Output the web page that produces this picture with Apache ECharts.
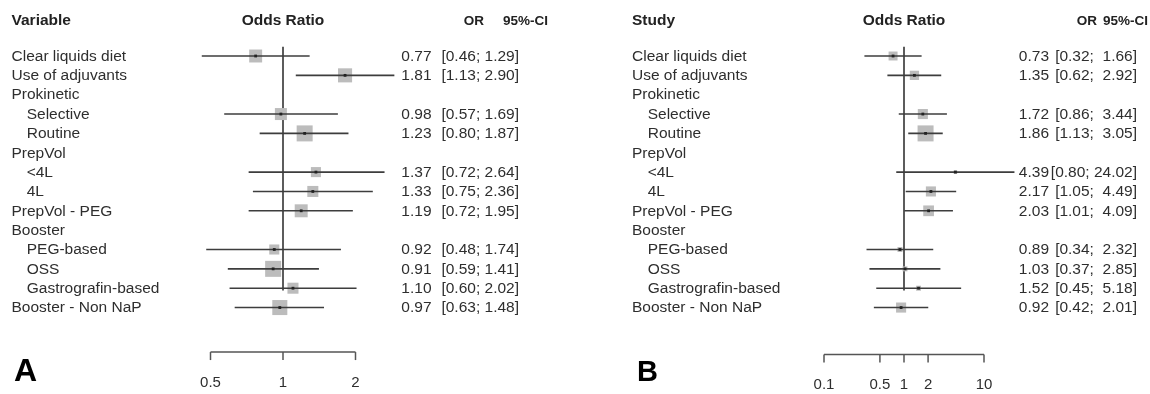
<!DOCTYPE html>
<html><head><meta charset="utf-8">
<script src="https://cdn.jsdelivr.net/npm/echarts@6/dist/echarts.min.js"></script>
<style>html,body{margin:0;padding:0;background:#fff}#c{width:1150px;height:394px}</style>
</head><body><div id="c"></div>
<script>
// ---------------- data ----------------
const rowLabels = ['Clear liquids diet','Use of adjuvants','Prokinetic','Selective','Routine','PrepVol','<4L','4L','PrepVol - PEG','Booster','PEG-based','OSS','Gastrografin-based','Booster - Non NaP'];
const rowIndent = [0,0,0,1,1,0,1,1,0,0,1,1,1,0];

const orA    = [0.77,1.81,null,0.98,1.23,null,1.37,1.33,1.19,null,0.92,0.91,1.10,0.97];
const lowerA = [0.46,1.13,null,0.57,0.80,null,0.72,0.75,0.72,null,0.48,0.59,0.60,0.63];
const upperA = [1.29,2.90,null,1.69,1.87,null,2.64,2.36,1.95,null,1.74,1.41,2.02,1.48];
const weightA= [0.81,0.88,null,0.75,1.00,null,0.63,0.69,0.81,null,0.63,1.00,0.69,0.94];

const orB    = [0.73,1.35,null,1.72,1.86,null,4.39,2.17,2.03,null,0.89,1.03,1.52,0.92];
const lowerB = [0.32,0.62,null,0.86,1.13,null,0.80,1.05,1.01,null,0.34,0.37,0.45,0.42];
const upperB = [1.66,2.92,null,3.44,3.05,null,24.02,4.49,4.09,null,2.32,2.85,5.18,2.01];
const weightB= [0.56,0.58,null,0.63,1.00,null,0.22,0.63,0.67,null,0.31,0.31,0.31,0.63];

const ticksA = [0.5,1,2];
const ticksB = [0.1,0.5,1,2,10];
const headersA = ['Variable','Odds Ratio','OR','95%-CI'];
const headersB = ['Study','Odds Ratio','OR','95%-CI'];
const panelLetters = ['A','B'];

// ---------------- layout / style ----------------
const FONT = '"Liberation Sans", Arial, Helvetica, sans-serif';
const FS = 15.5;
const TXT = '#2e2e2e';
const ROW_TOP = 36.65, ROW_H = 19.35, Y_MAX = 17;

const panels = [
  {or:orA, lo:lowerA, hi:upperA, w:weightA, ticks:ticksA, headers:headersA, letter:panelLetters[0],
   left:210.5, width:145, min:0.5, max:2, base:2, axisRow:16.30,
   labelX:11.5, indentX:26.7, orRight:431.5, ciRight:519, hdrOrRight:484, hdrCiRight:548,
   letterX:14, letterY:372, letterSize:32, boxMax:16},
  {or:orB, lo:lowerB, hi:upperB, w:weightB, ticks:ticksB, headers:headersB, letter:panelLetters[1],
   left:824, width:160, min:0.1, max:10, base:10, axisRow:16.42,
   labelX:632, indentX:647.7, orRight:1049, ciRight:1137, hdrOrRight:1097, hdrCiRight:1148,
   letterX:637, letterY:373, letterSize:29, boxMax:16}
];
const HDR_SMALL = 13.5;

function fmt(v){ return v.toFixed(2); }
function txt(x, y, text, align, size){
  return {type:'text', x:x, y:y, silent:true,
    style:{text:text, fill:TXT, fontSize:size||FS, fontFamily:FONT, align:align, verticalAlign:'middle'}};
}

const grids = [], xAxes = [], yAxes = [], series = [], graphics = [];

panels.forEach((P, pi) => {
  grids.push({left:P.left, width:P.width, top:ROW_TOP, height:Y_MAX*ROW_H});
  xAxes.push({type:'log', logBase:P.base, min:P.min, max:P.max, gridIndex:pi, show:false});
  yAxes.push({type:'value', min:0, max:Y_MAX, inverse:true, gridIndex:pi, show:false});

  const rows = rowLabels.map((l, i) => [1, i+1, i]);
  const est = [];
  P.or.forEach((v, i) => { if (v != null) est.push([v, i+1, P.lo[i], P.hi[i], P.w[i]]); });

  // pad bounds like R's formatC
  const hiWidth = Math.max(...P.hi.filter(v=>v!=null).map(v=>fmt(v).length));
  const loWidth = Math.max(...P.lo.filter(v=>v!=null).map(v=>fmt(v).length));

  // reference line at OR = 1
  series.push({type:'custom', xAxisIndex:pi, yAxisIndex:pi, clip:false, silent:true, z:1,
    data:[[1, 0.52, 13.12]],
    renderItem:(params, api) => {
      const a = api.coord([1, api.value(1)]), b = api.coord([1, api.value(2)]);
      return {type:'line', shape:{x1:a[0], y1:a[1], x2:b[0], y2:b[1]},
        style:{stroke:'#5c5c5c', lineWidth:2}};
    }});

  // CI lines and weighted boxes
  series.push({type:'custom', xAxisIndex:pi, yAxisIndex:pi, clip:false, silent:true, z:2,
    data:est,
    renderItem:(params, api) => {
      const p = api.coord([api.value(0), api.value(1)]);
      const l = api.coord([api.value(2), api.value(1)]);
      const h = api.coord([api.value(3), api.value(1)]);
      const s = api.value(4) * P.boxMax;
      return {type:'group', children:[
        {type:'rect', shape:{x:p[0]-s/2, y:p[1]-s/2, width:s, height:s}, style:{fill:'#bcbcbc'}},
        {type:'line', shape:{x1:l[0], y1:l[1], x2:h[0], y2:h[1]}, style:{stroke:'#3d3d3d', lineWidth:1.6}},
        {type:'rect', shape:{x:p[0]-1.4, y:p[1]-1.4, width:2.8, height:2.8}, style:{fill:'#222'}}
      ]};
    }});

  // row labels
  series.push({type:'custom', xAxisIndex:pi, yAxisIndex:pi, clip:false, silent:true, z:3,
    data:rows,
    renderItem:(params, api) => {
      const i = api.value(2);
      const y = api.coord([1, api.value(1)])[1] + 0.5;
      return txt(rowIndent[i] ? P.indentX : P.labelX, y, rowLabels[i], 'left');
    }});

  // OR and CI text columns
  series.push({type:'custom', xAxisIndex:pi, yAxisIndex:pi, clip:false, silent:true, z:3,
    data:est,
    renderItem:(params, api) => {
      const y = api.coord([1, api.value(1)])[1] + 0.5;
      const ci = '[' + fmt(api.value(2)).padStart(loWidth,' ') + '; ' + fmt(api.value(3)).padStart(hiWidth,' ') + ']';
      return {type:'group', children:[
        txt(P.orRight, y, fmt(api.value(0)), 'right'),
        txt(P.ciRight, y, ci, 'right')
      ]};
    }});

  // x axis line
  series.push({type:'custom', xAxisIndex:pi, yAxisIndex:pi, clip:false, silent:true, z:3,
    data:[[P.min, P.max]],
    renderItem:(params, api) => {
      const a = api.coord([api.value(0), P.axisRow]), b = api.coord([api.value(1), P.axisRow]);
      return {type:'line', shape:{x1:a[0], y1:a[1], x2:b[0], y2:b[1]}, style:{stroke:'#555', lineWidth:1.5}};
    }});
  // ticks and tick labels
  series.push({type:'custom', xAxisIndex:pi, yAxisIndex:pi, clip:false, silent:true, z:3,
    data:P.ticks.map(t => [t]),
    renderItem:(params, api) => {
      const v = api.value(0);
      const a = api.coord([v, P.axisRow]);
      return {type:'group', children:[
        {type:'line', shape:{x1:a[0], y1:a[1], x2:a[0], y2:a[1]+8}, style:{stroke:'#555', lineWidth:1.5}},
        txt(a[0], a[1]+30.5, String(v), 'center', 15)
      ]};
    }});

  // headers
  const centre = P.left + P.width * (Math.log(1/P.min) / Math.log(P.max/P.min));
  const hs = {fill:'#222', fontFamily:FONT, fontWeight:'bold', verticalAlign:'middle'};
  graphics.push({type:'text', x:P.labelX, y:21, style:Object.assign({text:P.headers[0], align:'left', fontSize:FS}, hs)});
  graphics.push({type:'text', x:centre, y:21, style:Object.assign({text:P.headers[1], align:'center', fontSize:FS}, hs)});
  graphics.push({type:'text', x:P.hdrOrRight, y:21, style:Object.assign({text:P.headers[2], align:'right', fontSize:HDR_SMALL}, hs)});
  graphics.push({type:'text', x:P.hdrCiRight, y:21, style:Object.assign({text:P.headers[3], align:'right', fontSize:HDR_SMALL}, hs)});
  // panel letter
  graphics.push({type:'text', x:P.letterX, y:P.letterY,
    style:{text:P.letter, fill:'#000', fontSize:P.letterSize, fontFamily:FONT, fontWeight:'bold', align:'left', verticalAlign:'middle'}});
});

const chart = echarts.init(document.getElementById('c'), null, {renderer:'canvas'});
chart.setOption({
  animation:false,
  backgroundColor:'#fff',
  grid:grids, xAxis:xAxes, yAxis:yAxes, series:series, graphic:graphics
});
</script></body></html>
